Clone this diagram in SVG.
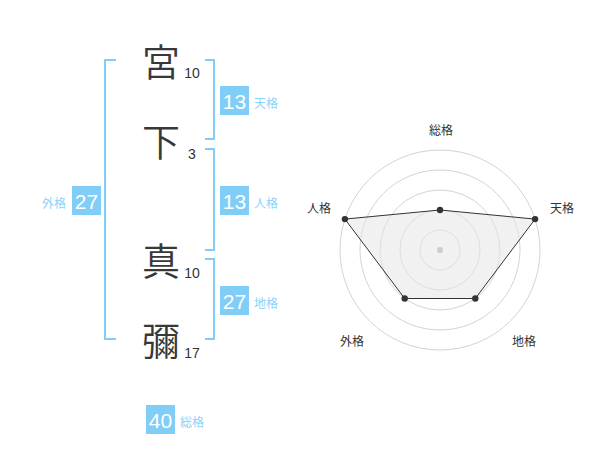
<svg xmlns="http://www.w3.org/2000/svg" width="600" height="470" viewBox="0 0 600 470">
<style>
.ch{font-family:"Noto Sans CJK JP","Noto Sans CJK SC",sans-serif;font-size:38px;font-weight:350;fill:#383838;text-anchor:middle}
.num{font-family:"Liberation Sans",Arial,sans-serif;font-size:14px;fill:#333;text-anchor:middle}
.br{fill:none;stroke:#80cdf8;stroke-width:2}
.box{fill:#80cdf8}
.bn{font-family:"Liberation Sans",Arial,sans-serif;font-size:21px;fill:#fff;text-anchor:middle}
.lb{font-family:"Noto Sans CJK JP","Noto Sans CJK SC",sans-serif;font-size:12px;fill:#8ad2fa}
.rl{font-family:"Noto Sans CJK JP","Noto Sans CJK SC",sans-serif;font-size:12px;fill:#333;text-anchor:middle}
.ring{fill:none;stroke:#d4d4d4;stroke-width:1}
.pt{fill:#333}
</style>
<rect width="600" height="470" fill="#fff"/>
<g id="name">
<text class="ch" x="161" y="76">宮</text>
<text class="num" x="192" y="78">10</text>
<text class="ch" x="161" y="156">下</text>
<text class="num" x="192" y="159">3</text>
<text class="ch" x="161" y="275">真</text>
<text class="num" x="192" y="278">10</text>
<text class="ch" x="161" y="355">彌</text>
<text class="num" x="192" y="358">17</text>
</g>
<g id="connectors">
<path class="br" d="M116,60H105V339H116"/>
<path class="br" d="M205,60H214V139H205"/>
<path class="br" d="M205,149H214V250H205"/>
<path class="br" d="M205,259H214V339H205"/>
</g>
<g id="tenkaku">
<rect class="box" x="220" y="86" width="29" height="29"/>
<text class="bn" x="234.5" y="108.5">13</text>
<text class="lb" x="254" y="108">天格</text>
</g>
<g id="jinkaku">
<rect class="box" x="220" y="186" width="29" height="29"/>
<text class="bn" x="234.5" y="208.5">13</text>
<text class="lb" x="254" y="208">人格</text>
</g>
<g id="gaikaku">
<rect class="box" x="72" y="186" width="29" height="29"/>
<text class="bn" x="86.5" y="208.5">27</text>
<text class="lb" x="66" y="208" text-anchor="end">外格</text>
</g>
<g id="chikaku">
<rect class="box" x="220" y="286" width="29" height="29"/>
<text class="bn" x="234.5" y="308.5">27</text>
<text class="lb" x="254" y="308">地格</text>
</g>
<g id="soukaku">
<rect class="box" x="146" y="405" width="29" height="29"/>
<text class="bn" x="160.5" y="427.5">40</text>
<text class="lb" x="180" y="427">総格</text>
</g>
<g id="radar">
<circle class="ring" cx="440" cy="250" r="20"/>
<circle class="ring" cx="440" cy="250" r="40"/>
<circle class="ring" cx="440" cy="250" r="60"/>
<circle class="ring" cx="440" cy="250" r="80"/>
<circle class="ring" cx="440" cy="250" r="100"/>
<polygon points="440,210 535.1,219.1 475.3,298.5 404.7,298.5 344.9,219.1" fill="#e6e6e6" fill-opacity="0.55" stroke="#333" stroke-width="1"/>
<circle cx="440" cy="250" r="3" fill="#ccc"/>
<circle class="pt" cx="440" cy="210" r="3.2"/>
<circle class="pt" cx="535.1" cy="219.1" r="3.2"/>
<circle class="pt" cx="475.3" cy="298.5" r="3.2"/>
<circle class="pt" cx="404.7" cy="298.5" r="3.2"/>
<circle class="pt" cx="344.9" cy="219.1" r="3.2"/>
<text class="rl" x="441" y="134.5">総格</text>
<text class="rl" x="562" y="213">天格</text>
<text class="rl" x="319" y="213">人格</text>
<text class="rl" x="352" y="346">外格</text>
<text class="rl" x="524" y="346">地格</text>
</g>
</svg>
